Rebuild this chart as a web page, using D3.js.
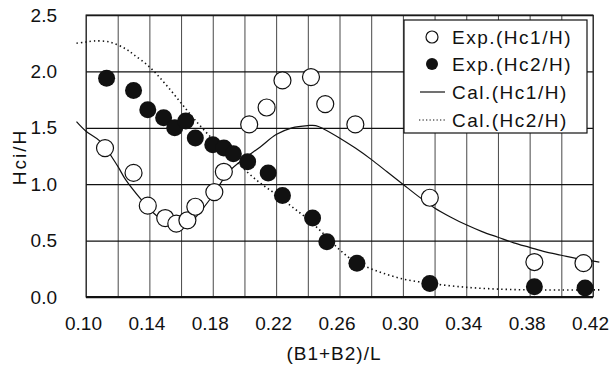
<!DOCTYPE html>
<html>
<head>
<meta charset="utf-8">
<script src="https://cdn.jsdelivr.net/npm/d3@7"></script>
<style>
  body { margin: 0; background: #fff; }
  text { font-family: "Liberation Sans", Arial, sans-serif; fill: #111; }
</style>
</head>
<body>
<div id="chart"></div>
<script>
// measured points, Hc1/H (open circles)
var expHc1X = [0.112, 0.130, 0.139, 0.150, 0.157, 0.164, 0.169, 0.181, 0.187, 0.203, 0.214, 0.224, 0.242, 0.251, 0.270, 0.317, 0.383, 0.414];
var expHc1Y = [1.32, 1.10, 0.81, 0.70, 0.65, 0.68, 0.80, 0.93, 1.11, 1.53, 1.68, 1.92, 1.95, 1.71, 1.53, 0.88, 0.31, 0.30];

// measured points, Hc2/H (filled circles)
var expHc2X = [0.113, 0.130, 0.139, 0.149, 0.156, 0.163, 0.169, 0.180, 0.187, 0.193, 0.202, 0.215, 0.224, 0.243, 0.252, 0.271, 0.317, 0.383, 0.415];
var expHc2Y = [1.94, 1.83, 1.66, 1.59, 1.50, 1.56, 1.41, 1.35, 1.32, 1.27, 1.20, 1.10, 0.90, 0.70, 0.49, 0.30, 0.12, 0.09, 0.08];

// calculated curves
var calHc1X = [0.094, 0.100, 0.109, 0.120, 0.125, 0.135, 0.140, 0.150, 0.157, 0.165, 0.170, 0.180, 0.190, 0.200, 0.210, 0.220, 0.230, 0.240, 0.245, 0.250, 0.260, 0.270, 0.280, 0.290, 0.300, 0.310, 0.320, 0.330, 0.340, 0.350, 0.360, 0.370, 0.380, 0.390, 0.400, 0.410, 0.424];
var calHc1Y = [1.555, 1.47, 1.38, 1.16, 1.04, 0.86, 0.78, 0.66, 0.61, 0.65, 0.72, 0.90, 1.11, 1.23, 1.33, 1.44, 1.50, 1.52, 1.52, 1.49, 1.41, 1.32, 1.22, 1.11, 1.00, 0.89, 0.79, 0.71, 0.64, 0.58, 0.53, 0.48, 0.44, 0.40, 0.37, 0.34, 0.31];

var calHc2X = [0.094, 0.100, 0.105, 0.115, 0.125, 0.130, 0.140, 0.150, 0.160, 0.170, 0.180, 0.190, 0.200, 0.210, 0.220, 0.230, 0.240, 0.250, 0.260, 0.270, 0.280, 0.290, 0.300, 0.310, 0.320, 0.340, 0.360, 0.380, 0.400, 0.424];
var calHc2Y = [2.25, 2.26, 2.27, 2.26, 2.20, 2.15, 2.04, 1.89, 1.72, 1.55, 1.40, 1.27, 1.13, 1.01, 0.91, 0.80, 0.69, 0.56, 0.42, 0.31, 0.25, 0.20, 0.16, 0.135, 0.115, 0.086, 0.07, 0.063, 0.062, 0.063];

var xTicks = [0.10, 0.14, 0.18, 0.22, 0.26, 0.30, 0.34, 0.38, 0.42];
var yTicks = [0.0, 0.5, 1.0, 1.5, 2.0, 2.5];
var legendLabels = ["Exp.(Hc1/H)", "Exp.(Hc2/H)", "Cal.(Hc1/H)", "Cal.(Hc2/H)"];

var width = 610, height = 365;
var margin = { top: 15, right: 17, bottom: 68, left: 86 };
var w = width - margin.left - margin.right;
var h = height - margin.top - margin.bottom;

var svg = d3.select("#chart").append("svg")
  .attr("width", width)
  .attr("height", height);

var g = svg.append("g")
  .attr("transform", "translate(" + margin.left + "," + margin.top + ")");

var x = d3.scaleLinear().domain([0.10, 0.42]).range([0, w]);
var y = d3.scaleLinear().domain([0, 2.5]).range([h, 0]);

// vertical grid every 0.02
g.append("g")
  .call(d3.axisBottom(x).tickValues(d3.range(0.10, 0.4201, 0.02)).tickSize(h).tickFormat(""))
  .call(function (s) { s.select(".domain").remove(); })
  .selectAll("line")
  .attr("stroke", "#333")
  .attr("stroke-width", 0.9);

// horizontal grid
g.append("g")
  .call(d3.axisLeft(y).tickValues(yTicks).tickSize(-w).tickFormat(""))
  .call(function (s) { s.select(".domain").remove(); })
  .selectAll("line")
  .attr("stroke", "#111")
  .attr("stroke-width", 1.3);

// frame
g.append("rect")
  .attr("width", w).attr("height", h)
  .attr("fill", "none")
  .attr("stroke", "#222")
  .attr("stroke-width", 1);
g.append("line")
  .attr("x1", 0).attr("x2", w).attr("y1", h).attr("y2", h)
  .attr("stroke", "#111").attr("stroke-width", 2);

// tick labels
var xAxis = g.append("g")
  .attr("transform", "translate(-3," + h + ")")
  .call(d3.axisBottom(x).tickValues(xTicks).tickSize(0).tickPadding(20).tickFormat(d3.format(".2f")));
xAxis.select(".domain").remove();
xAxis.selectAll("text").style("font-size", "19px").attr("fill", "#111");

var yAxis = g.append("g")
  .attr("transform", "translate(-26,0)")
  .call(d3.axisLeft(y).tickValues(yTicks).tickSize(0).tickFormat(d3.format(".1f")));
yAxis.select(".domain").remove();
yAxis.selectAll("text").style("font-size", "19px").attr("fill", "#111");

// axis titles
svg.append("text")
  .attr("x", 334).attr("y", 360)
  .attr("text-anchor", "middle")
  .style("font-size", "19px")
  .style("letter-spacing", "1px")
  .text("(B1+B2)/L");

svg.append("text")
  .attr("transform", "translate(26,157) rotate(-90)")
  .attr("text-anchor", "middle")
  .style("font-size", "19px")
  .style("letter-spacing", "2px")
  .text("Hci/H");

// curves
var line = d3.line()
  .x(function (d) { return x(d[0]); })
  .y(function (d) { return y(d[1]); })
  .curve(d3.curveCatmullRom);

g.append("path")
  .datum(d3.zip(calHc1X, calHc1Y))
  .attr("d", line)
  .attr("fill", "none")
  .attr("stroke", "#111")
  .attr("stroke-width", 1.2);

g.append("path")
  .datum(d3.zip(calHc2X, calHc2Y))
  .attr("d", line)
  .attr("fill", "none")
  .attr("stroke", "#111")
  .attr("stroke-width", 1.6)
  .attr("stroke-dasharray", "1.4,3");

// points
g.selectAll(".open")
  .data(d3.zip(expHc1X, expHc1Y))
  .enter().append("circle")
  .attr("class", "open")
  .attr("cx", function (d) { return x(d[0]); })
  .attr("cy", function (d) { return y(d[1]); })
  .attr("r", 8.5)
  .attr("fill", "#fff")
  .attr("stroke", "#111")
  .attr("stroke-width", 1.2);

g.selectAll(".filled")
  .data(d3.zip(expHc2X, expHc2Y))
  .enter().append("circle")
  .attr("class", "filled")
  .attr("cx", function (d) { return x(d[0]); })
  .attr("cy", function (d) { return y(d[1]); })
  .attr("r", 8.5)
  .attr("fill", "#111");

// legend
var lg = svg.append("g").attr("transform", "translate(404,20)");
lg.append("rect")
  .attr("width", 183).attr("height", 113)
  .attr("fill", "#fff")
  .attr("stroke", "#111")
  .attr("stroke-width", 1.2);

var rowY = [17, 44, 72, 100];
lg.append("circle").attr("cx", 28).attr("cy", rowY[0]).attr("r", 6)
  .attr("fill", "#fff").attr("stroke", "#111").attr("stroke-width", 1.2);
lg.append("circle").attr("cx", 28).attr("cy", rowY[1]).attr("r", 6)
  .attr("fill", "#111");
lg.append("line").attr("x1", 16).attr("x2", 41).attr("y1", rowY[2]).attr("y2", rowY[2])
  .attr("stroke", "#111").attr("stroke-width", 1.2);
lg.append("line").attr("x1", 15).attr("x2", 41).attr("y1", rowY[3]).attr("y2", rowY[3])
  .attr("stroke", "#111").attr("stroke-width", 1.2).attr("stroke-dasharray", "1.3,2.2");

lg.selectAll(".lt")
  .data(legendLabels)
  .enter().append("text")
  .attr("class", "lt")
  .attr("x", 48)
  .attr("y", function (d, i) { return rowY[i]; })
  .attr("dy", "0.35em")
  .style("font-size", "19px")
  .style("letter-spacing", "1.5px")
  .text(function (d) { return d; });
</script>
</body>
</html>
